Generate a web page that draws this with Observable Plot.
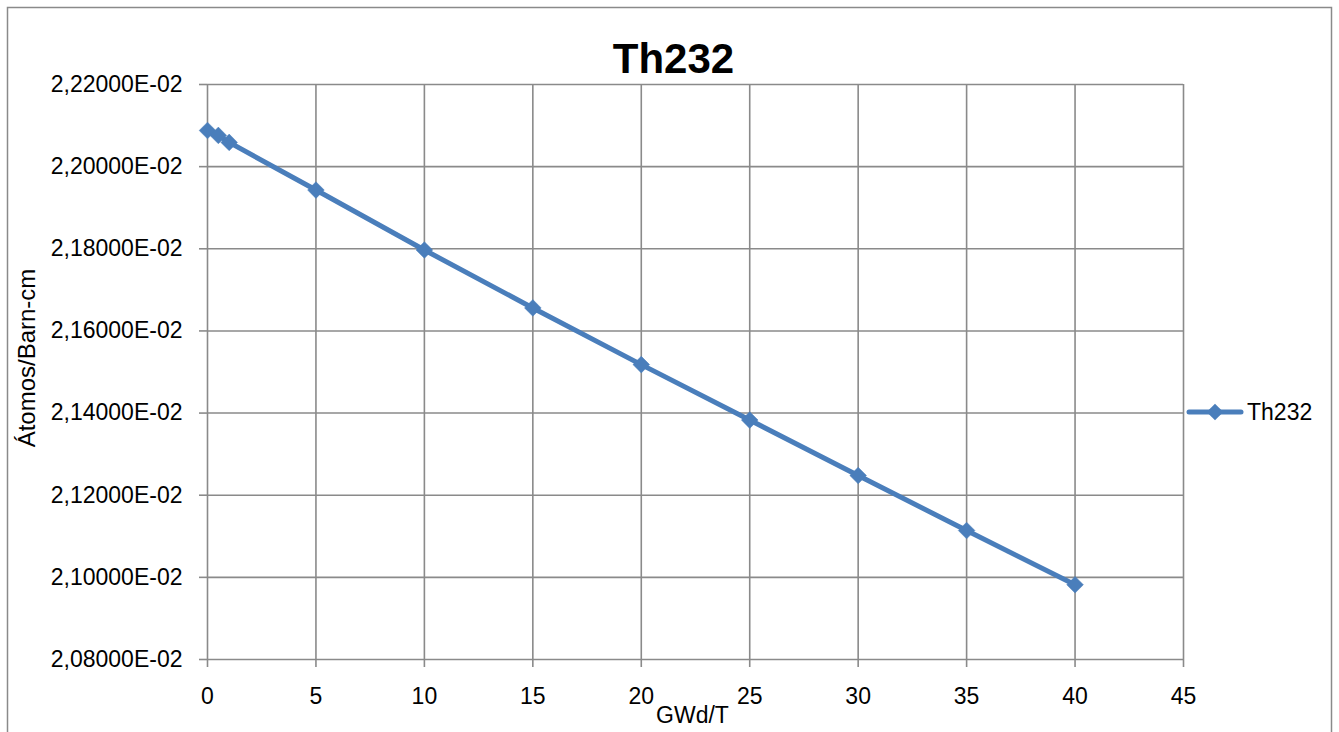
<!DOCTYPE html>
<html>
<head>
<meta charset="utf-8">
<script src="https://cdn.jsdelivr.net/npm/d3@7"></script>
<script src="https://cdn.jsdelivr.net/npm/@observablehq/plot@0.6"></script>
<style>
  html, body { margin: 0; padding: 0; background: #fff; }
  #chart { position: relative; width: 1339px; height: 732px; overflow: hidden; }
  svg { font-family: "Liberation Sans", "DejaVu Sans", sans-serif; }
</style>
</head>
<body>
<div id="chart"></div>
<script>
const burnup = [0, 0.5, 1, 5, 10, 15, 20, 25, 30, 35, 40];
const th232 = [2.2088e-2, 2.2076e-2, 2.2059e-2, 2.1943e-2, 2.1797e-2, 2.1656e-2, 2.1518e-2, 2.1383e-2, 2.1248e-2, 2.1114e-2, 2.0982e-2];
const xTicks = [0, 5, 10, 15, 20, 25, 30, 35, 40, 45];
const yTicks = [0.0208, 0.0210, 0.0212, 0.0214, 0.0216, 0.0218, 0.0220, 0.0222];
const seriesName = "Th232";
const chartTitle = "Th232";
const xLabel = "GWd/T";
const yLabel = "Átomos/Barn-cm";

const data = burnup.map((x, i) => ({x, y: th232[i]}));
const fmt = d => (d * 100).toFixed(5).replace(".", ",") + "E-02";
const blue = "#4a7ebb";
const grid = "#8a8a8a";

const W = 1339, H = 732;
const mL = 207, mR = 156, mT = 84, mB = 73;
const R = 7.5;

const chart = Plot.plot({
  width: W, height: H,
  marginLeft: mL, marginRight: mR, marginTop: mT, marginBottom: mB,
  style: {fontSize: "23px", fontFamily: "'Liberation Sans', sans-serif", color: "#000", background: "#fff"},
  x: {domain: [0, 45]},
  y: {domain: [0.0208, 0.0222]},
  marks: [
    Plot.gridX(xTicks, {stroke: grid, strokeOpacity: 1, strokeWidth: 1.6}),
    Plot.gridY(yTicks, {stroke: grid, strokeOpacity: 1, strokeWidth: 1.6}),
    Plot.axisX(xTicks, {tickSize: 8, tickPadding: 20, stroke: grid, strokeWidth: 1.6, label: null, fontSize: 23, fill: "#000"}),
    Plot.axisY(yTicks, {tickSize: 8, tickPadding: 17, stroke: grid, strokeWidth: 1.6, label: null, tickFormat: fmt, fontSize: 23, fill: "#000"}),
    Plot.line(data, {x: "x", y: "y", stroke: blue, strokeWidth: 5}),
    Plot.dot(data, {x: "x", y: "y", symbol: "diamond2", r: R, fill: blue, stroke: blue, strokeWidth: 0.5}),
    Plot.text([chartTitle], {frameAnchor: "top", lineAnchor: "middle", dx: -22, dy: -25, text: d => d, fontSize: 42, fontWeight: "bold", fill: "#000"}),
    Plot.text([xLabel], {frameAnchor: "bottom", lineAnchor: "middle", dx: -3, dy: 56, text: d => d, fontSize: 23, fill: "#000"}),
    Plot.text([yLabel], {frameAnchor: "left", textAnchor: "middle", lineAnchor: "middle", dx: -180, dy: -14, rotate: -90, text: d => d, fontSize: 24, fill: "#000"})
  ]
});

const svg = d3.select(chart);
// outer chart border
svg.insert("rect", ":first-child")
  .attr("x", 7.5).attr("y", 7.5).attr("width", 1324).attr("height", 760)
  .attr("fill", "none").attr("stroke", "#8a8a8a").attr("stroke-width", 1.5);

// legend
const ly = 412;
const lg = svg.append("g");
lg.append("line").attr("x1", 1189).attr("x2", 1241).attr("y1", ly).attr("y2", ly)
  .attr("stroke", blue).attr("stroke-width", 5).attr("stroke-linecap", "round");
lg.append("path").attr("d", d3.symbol(d3.symbolDiamond2, R * R * Math.PI)())
  .attr("transform", `translate(1215,${ly})`).attr("fill", blue);
lg.append("text").attr("x", 1247).attr("y", ly).attr("dy", "0.35em")
  .attr("text-anchor", "start")
  .attr("font-size", 23).attr("fill", "#000").text(seriesName);

document.getElementById("chart").appendChild(chart);
</script>
</body>
</html>
